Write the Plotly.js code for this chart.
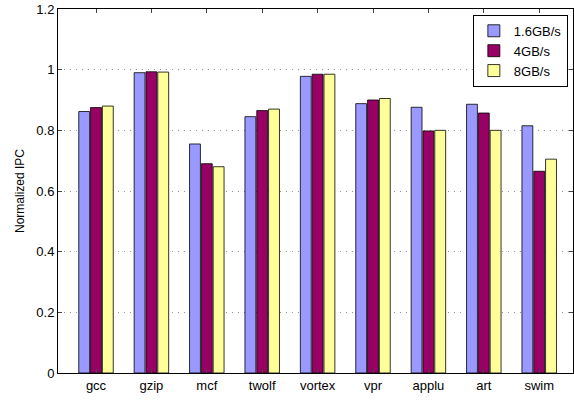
<!DOCTYPE html>
<html><head><script src="https://cdn.plot.ly/plotly-3.0.1.min.js"></script></head>
<body style="margin:0">
<div id="chart" style="width:574px;height:402px"></div>
<script>
var benchmarks = ["gcc", "gzip", "mcf", "twolf", "vortex", "vpr", "applu", "art", "swim"]
var bw16 = [0.862, 0.990, 0.755, 0.845, 0.978, 0.888, 0.876, 0.886, 0.815]
var bw4 = [0.875, 0.993, 0.690, 0.865, 0.985, 0.900, 0.798, 0.857, 0.665]
var bw8 = [0.880, 0.992, 0.680, 0.870, 0.985, 0.905, 0.800, 0.800, 0.705]
var yTicks = [0, 0.2, 0.4, 0.6, 0.8, 1, 1.2]

function bar(name, vals, color) {
    return {
        type: "bar", name: name, x: benchmarks, y: vals,
        marker: { color: color, line: { color: "#000", width: 0.8 } },
    }
}

Plotly.newPlot(
    document.getElementById("chart"),
    [bar("1.6GB/s", bw16, "#9999ff"), bar("4GB/s", bw4, "#990066"), bar("8GB/s", bw8, "#ffff99")],
    {
        width: 574, height: 402,
        margin: {t: 9, l: 58, r: 1, b: 29},
        bargap: 0.36, bargroupgap: 0.08,
        paper_bgcolor: "#fff", plot_bgcolor: "#fff",
        font: { family: "Liberation Sans, Arial, sans-serif", size: 13, color: "#000" },
        xaxis: { range: [-0.686, 8.61], showline: true, mirror: "ticks", linecolor: "#000",
            ticks: "inside", ticklen: 4, showgrid: false },
        yaxis: {
            range: [0, 1.2], tickmode: "array", tickvals: yTicks, ticktext: yTicks.map(String),
            showline: true, mirror: "ticks", linecolor: "#000", automargin: false,
            ticks: "inside", ticklen: 4, gridcolor: "#999", griddash: "1px,5px", zeroline: false,
            title: { text: "Normalized IPC", font: { size: 12 } },
        },
        legend: {
            x: 0.99, y: 0.984, xanchor: "right", yanchor: "top", tracegroupgap: 0,
            bordercolor: "#000", borderwidth: 1, bgcolor: "#fff", font: { size: 13 },
        },
    },
    { displayModeBar: false }
)
</script></body></html>
